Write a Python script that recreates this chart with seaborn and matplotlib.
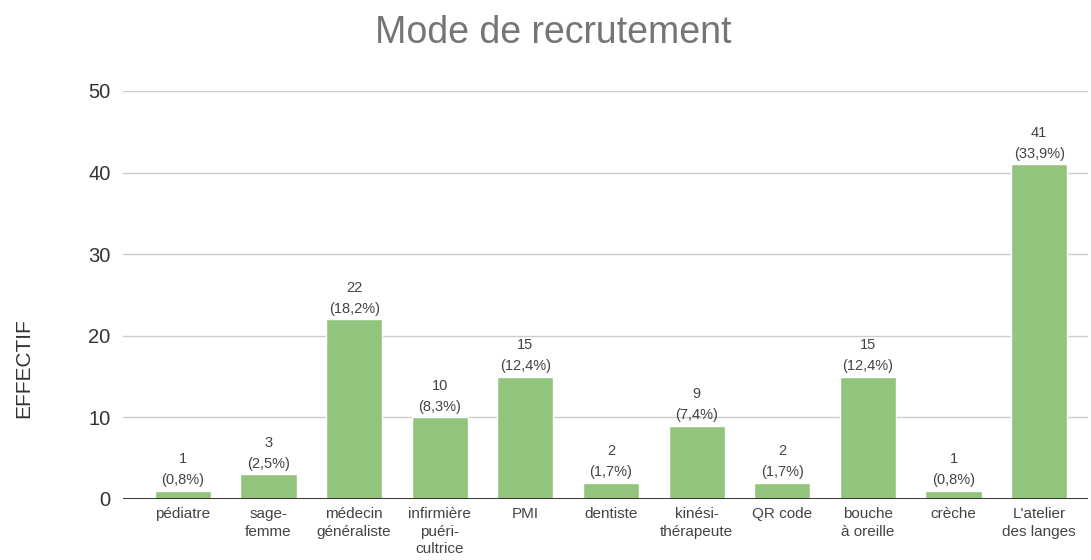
import matplotlib
matplotlib.use("Agg")
import matplotlib.pyplot as plt
import seaborn as sns
import pandas as pd

# ----- Data -----
categories = ["pédiatre", "sage-\nfemme", "médecin\ngénéraliste", "infirmière\npuéri-\ncultrice",
              "PMI", "dentiste", "kinési-\nthérapeute", "QR code", "bouche\nà oreille",
              "crèche", "L'atelier\ndes langes"]
counts = [1, 3, 22, 10, 15, 2, 9, 2, 15, 1, 41]
percents = ["0,8%", "2,5%", "18,2%", "8,3%", "12,4%", "1,7%", "7,4%", "1,7%", "12,4%", "0,8%", "33,9%"]

df = pd.DataFrame({"categorie": categories, "effectif": counts})

sns.set_theme(style="white")
plt.rcParams['font.family'] = ['Liberation Sans', 'DejaVu Sans']

fig = plt.figure(figsize=(10.91, 5.6), dpi=100)
ax = fig.add_axes([0.1127, 0.109, 0.8845, 0.7285])

sns.barplot(data=df, x="categorie", y="effectif", color="#93c47d", width=0.655,
            saturation=1, ax=ax, zorder=3)

# ----- labels above bars -----
for i, (c, p) in enumerate(zip(counts, percents)):
    ax.text(i, c + 0.45, f"{c}\n({p})", ha="center", va="bottom", fontsize=10.5,
            color="#444444", linespacing=1.65)

ax.set_ylim(0, 50)
ax.set_xlim(-0.70, 10.57)
ax.set_yticks([0, 10, 20, 30, 40, 50])
ax.yaxis.grid(True, color="#cccccc", linewidth=1, zorder=0)
ax.axhline(0, color="#333333", linewidth=1.4, zorder=4)
for s in ax.spines.values():
    s.set_visible(False)
ax.tick_params(axis="y", labelsize=14.5, colors="#333333", length=0, pad=9)
ax.tick_params(axis="x", labelsize=11, colors="#444444", length=0, pad=6)
for lbl in ax.get_xticklabels():
    lbl.set_linespacing(1.3)
    lbl.set_va("top")

ax.set_xlabel("")
ax.set_ylabel("EFFECTIF", fontsize=15, color="#333333", labelpad=0)
ax.yaxis.set_label_coords(-0.093, 0.32)
fig.text(0.507, 0.941, "Mode de recrutement", fontsize=27, color="#757575",
         ha="center", va="center")

fig.savefig("out.png", dpi=100)
